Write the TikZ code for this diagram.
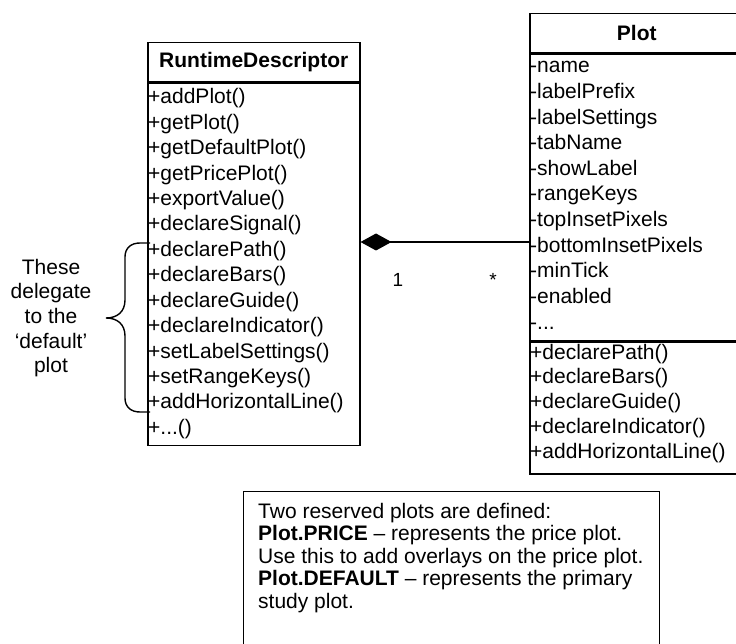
\documentclass[tikz,border=0pt]{standalone}
\usepackage{fontspec}
\setmainfont{Liberation Sans}
\usetikzlibrary{arrows.meta,positioning}
\newcommand{\mdots}{.{}.{}.}

\begin{document}
\begin{tikzpicture}[x=1pt,y=-1pt,
  classtitle/.style={draw, line width=1.5pt, inner sep=0pt, minimum height=39pt,
    anchor=north west, font=\fontsize{21}{25}\selectfont\bfseries},
  classbody/.style={draw, line width=1.5pt, inner sep=0pt, anchor=north west},
  member/.style={anchor=base west, inner sep=0pt, font=\fontsize{21}{25}\selectfont},
  mult/.style={anchor=base, inner sep=0pt, font=\fontsize{19}{23}\selectfont}]
\useasboundingbox (0,0) rectangle (736,644);

% RuntimeDescriptor
\node[classtitle, minimum width=212pt] (rdTitle) at (147,42) {RuntimeDescriptor};
\node[classbody, minimum width=212pt, minimum height=362pt] (rdBody) at (rdTitle.south west) {};
\foreach \m [count=\i from 0] in {+addPlot(), +getPlot(), +getDefaultPlot(), +getPricePlot(),
    +exportValue(), +declareSignal(), +declarePath(), +declareBars(), +declareGuide(),
    +declareIndicator(), +setLabelSettings(), +setRangeKeys(), +addHorizontalLine(), +\mdots()}
  \node[member] at (148,104+25.4*\i) {\m};

% Plot
\node[classtitle, minimum width=214pt] (plotTitle) at (529,13) {Plot};
\node[classbody, minimum width=214pt, minimum height=286pt] (plotAttrs) at (plotTitle.south west) {};
\node[classbody, minimum width=214pt, minimum height=132pt] (plotOps) at (plotAttrs.south west) {};
\foreach \m [count=\i from 0] in {-name, -labelPrefix, -labelSettings, -tabName, -showLabel,
    -rangeKeys, -topInsetPixels, -bottomInsetPixels, -minTick, -enabled, -\mdots}
  \node[member] at (530,73+25.6*\i) {\m};
\foreach \m [count=\i from 0] in {+declarePath(), +declareBars(), +declareGuide(),
    +declareIndicator(), +addHorizontalLine()}
  \node[member] at (530,359+24.9*\i) {\m};

% composition
\draw[{Diamond[length=31pt,width=17pt]}-, line width=1.2pt] (rdBody.east |- 0,242) -- (plotAttrs.west |- 0,242);
\node[mult] (multRd) at (398,287) {1};
\node[mult] (multPlot) at (493,287) {*};

% brace and its note
\node[align=center, inner sep=0pt, font=\fontsize{21}{24.6}\selectfont] (delegateNote) at (51,318)
  {These\\delegate\\to the\\‘default’\\plot};
\draw[line width=1.4pt] (150,243) -- (140,243) .. controls (131,243) and (125,248) .. (125,257)
  -- (125,300) .. controls (125,312) and (117,318) .. (106,318)
  .. controls (117,318) and (125,324) .. (125,336) -- (125,398)
  .. controls (125,407) and (131,412) .. (140,412) -- (150,412);

% reserved plots
\node[draw, line width=1pt, inner sep=0pt, minimum width=416pt, minimum height=160pt, anchor=north west] (noteBox) at (243,491) {};
\node[anchor=north west, align=left, inner sep=0pt, font=\fontsize{21}{22.5}\selectfont] (noteText) at (258,503)
  {Two reserved plots are defined:\\
   \textbf{Plot.PRICE} – represents the price plot.\\
   Use this to add overlays on the price plot.\\
   \textbf{Plot.DEFAULT} – represents the primary\\
   study plot.};
\end{tikzpicture}
\end{document}
